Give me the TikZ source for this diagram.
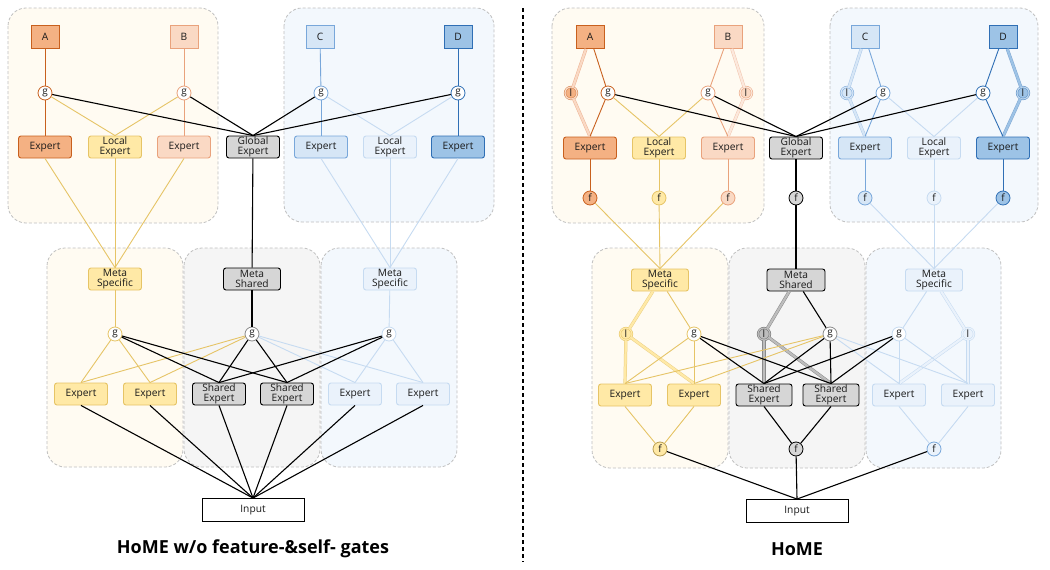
\documentclass[tikz,border=0pt]{standalone}
\usepackage{fontspec}
\setmainfont{Open Sans}
\definecolor{oD}{HTML}{C8601E}
\definecolor{oDf}{HTML}{F4B183}
\definecolor{oL}{HTML}{E9A27C}
\definecolor{oLf}{HTML}{FAD9C4}
\definecolor{yL}{HTML}{E6C466}
\definecolor{yF}{HTML}{FFE9A6}
\definecolor{bC}{HTML}{78A7DA}
\definecolor{bCf}{HTML}{D6E6F6}
\definecolor{bD}{HTML}{2F6FB5}
\definecolor{bDf}{HTML}{9DC3E6}
\definecolor{bL}{HTML}{C6DBF1}
\definecolor{bLf}{HTML}{EAF2FB}
\definecolor{gF}{HTML}{D6D6D6}
\definecolor{gD}{HTML}{8A8A8A}
\definecolor{gDf}{HTML}{BDBDBD}
\definecolor{grpO}{HTML}{FFFBF2}
\definecolor{grpG}{HTML}{F5F5F5}
\definecolor{grpB}{HTML}{F3F8FD}
\definecolor{grpE}{HTML}{BFBFBF}
\definecolor{txt}{HTML}{1A1A1A}
\tikzset{
  ebox/.style={rectangle, rounded corners=2.5pt, minimum width=53pt, minimum height=22pt, inner sep=0.5pt, align=center, text=txt, font=\fontsize{10.2}{10.6}\selectfont, line width=0.9pt},
  tbox/.style={rectangle, minimum width=28pt, minimum height=23pt, inner sep=0pt, text=txt, font=\fontsize{10.2}{10}\selectfont, line width=0.9pt},
  gate/.style={circle, minimum size=14pt, inner sep=0pt, fill=white, line width=0.8pt, text=txt, font=\fontsize{10}{10}\selectfont},
  lgate/.style={circle, minimum size=12pt, inner sep=0pt, line width=0.5pt, double distance=1.2pt, text=txt, font=\fontsize{10}{10}\selectfont},
  grp/.style={dash pattern=on 3pt off 2pt, draw=grpE, line width=0.8pt, rounded corners=18pt},
  ln/.style={line width=0.9pt},
  blk/.style={line width=1.1pt, draw=black},
  dbl/.style={line width=0.5pt, double distance=2.2pt},
  ttl/.style={font=\fontsize{18}{20}\selectfont\bfseries}
}
\begin{document}
\begin{tikzpicture}[x=1pt,y=-1pt]
\useasboundingbox (0,0) rectangle (1050,570);
% ---------- groups ----------
\draw[grp, fill=grpO] (8,8) rectangle (218,223);
\draw[grp, fill=grpB] (284,8) rectangle (494,222);
\draw[grp, fill=grpO] (47,248) rectangle (183,467);
\draw[grp, fill=grpG] (184,248) rectangle (320,467);
\draw[grp, fill=grpB] (321,248) rectangle (457,467);
\draw[grp, fill=grpO] (552,8) rectangle (764,223);
\draw[grp, fill=grpB] (830,8) rectangle (1038,222);
\draw[grp, fill=grpO] (592,248) rectangle (728,468);
\draw[grp, fill=grpG] (729,248) rectangle (865,468);
\draw[grp, fill=grpB] (866,248) rectangle (1001,468);
% divider
\coordinate (dv1) at (523,8);
\coordinate (dv2) at (523,562);
\draw[line width=1.3pt, dash pattern=on 4pt off 3pt] (dv1) -- (dv2);

% ================= LEFT =================
\node[tbox, fill=oDf, draw=oD] (A1) at (45,37) {A};
\node[tbox, fill=oLf, draw=oL] (B1) at (184,37) {B};
\node[tbox, fill=bCf, draw=bC] (C1) at (320,37) {C};
\node[tbox, fill=bDf, draw=bD] (D1) at (458,37) {D};
\node[gate, draw=oD] (gA1) at (45,93) {g};
\node[gate, draw=oL] (gB1) at (184,93) {g};
\node[gate, draw=bC] (gC1) at (321,93) {g};
\node[gate, draw=bD] (gD1) at (458,93) {g};
\node[ebox, fill=oDf, draw=oD] (eA1) at (45,147) {Expert};
\node[ebox, fill=yF, draw=yL] (lo1) at (115,147) {Local\\Expert};
\node[ebox, fill=oLf, draw=oL] (eB1) at (184,147) {Expert};
\node[ebox, fill=gF, draw=black] (ge1) at (253,147) {Global\\Expert};
\node[ebox, fill=bCf, draw=bC] (eC1) at (321,147) {Expert};
\node[ebox, fill=bLf, draw=bL] (lb1) at (390,147) {Local\\Expert};
\node[ebox, fill=bDf, draw=bD] (eD1) at (458,147) {Expert};
\node[ebox, fill=yF, draw=yL] (ms1) at (115,279) {Meta\\Specific};
\node[ebox, fill=gF, draw=black, minimum width=57pt] (msh1) at (252,279) {Meta\\Shared};
\node[ebox, fill=bLf, draw=bL] (mb1) at (390,279) {Meta\\Specific};
\node[gate, draw=yL] (gy1) at (115,334) {g};
\node[gate, draw=gD] (gg1) at (252,334) {g};
\node[gate, draw=bL] (gb1) at (389,334) {g};
\node[ebox, fill=yF, draw=yL] (y11) at (81,394) {Expert};
\node[ebox, fill=yF, draw=yL] (y12) at (150,394) {Expert};
\node[ebox, fill=gF, draw=black] (s11) at (219,394) {Shared\\Expert};
\node[ebox, fill=gF, draw=black] (s12) at (287,394) {Shared\\Expert};
\node[ebox, fill=bLf, draw=bL] (b11) at (355,394) {Expert};
\node[ebox, fill=bLf, draw=bL] (b12) at (423,394) {Expert};
\node[ebox, rounded corners=0pt, fill=white, draw=black, minimum width=102pt, minimum height=23pt] (in1) at (253,510) {Input};
\node[ttl] (t1) at (253,549) {HoME w/o feature-\&self- gates};

\draw[ln, oD] (A1) -- (gA1); \draw[ln, oD] (gA1) -- (eA1);
\draw[ln, oL] (B1) -- (gB1); \draw[ln, oL] (gB1) -- (eB1);
\draw[ln, bC] (C1) -- (gC1); \draw[ln, bC] (gC1) -- (eC1);
\draw[ln, bD] (D1) -- (gD1); \draw[ln, bD] (gD1) -- (eD1);
\draw[ln, yL] (gA1) -- (lo1.north); \draw[ln, yL] (gB1) -- (lo1.north);
\draw[ln, bL] (gC1) -- (lb1.north); \draw[ln, bL] (gD1) -- (lb1.north);
\foreach \g in {gA1,gB1,gC1,gD1} \draw[blk] (\g) -- (ge1.north);
\foreach \e in {eA1,lo1,eB1} \draw[ln, yL] (\e.south) -- (ms1.north);
\foreach \e in {eC1,lb1,eD1} \draw[ln, bL] (\e.south) -- (mb1.north);
\draw[blk] (ge1) -- (msh1);
\draw[ln, yL] (ms1) -- (gy1);
\draw[blk] (msh1) -- (gg1);
\draw[ln, bL] (mb1) -- (gb1);
\foreach \g in {gy1,gg1} {\draw[ln, yL] (\g) -- (y11.north); \draw[ln, yL] (\g) -- (y12.north);}
\foreach \g in {gg1,gb1} {\draw[ln, bL] (\g) -- (b11.north); \draw[ln, bL] (\g) -- (b12.north);}
\foreach \g in {gy1,gg1,gb1} {\draw[blk] (\g) -- (s11.north); \draw[blk] (\g) -- (s12.north);}
\foreach \e in {y11,y12,s11,s12,b11,b12} \draw[blk] (\e.south) -- (in1.north);

% ================= RIGHT =================
\node[tbox, fill=oDf, draw=oD] (A2) at (590,37) {A};
\node[tbox, fill=oLf, draw=oL] (B2) at (728,37) {B};
\node[tbox, fill=bCf, draw=bC] (C2) at (865,37) {C};
\node[tbox, fill=bDf, draw=bD] (D2) at (1003,37) {D};
\node[lgate, fill=oDf, draw=oD!80, double=oLf] (lA2) at (571,93) {l};
\node[gate, draw=oD] (gA2) at (608,93) {g};
\node[gate, draw=oL] (gB2) at (708,93) {g};
\node[lgate, fill=oLf, draw=oL, double=oLf!60] (lB2) at (746,93) {l};
\node[lgate, fill=bCf, draw=bC, double=bCf] (lC2) at (847,93) {l};
\node[gate, draw=bC] (gC2) at (883,93) {g};
\node[gate, draw=bD] (gD2) at (983,93) {g};
\node[lgate, fill=bDf, draw=bD!80, double=bDf!70] (lD2) at (1023,93) {l};
\node[ebox, fill=oDf, draw=oD] (eA2) at (590,148) {Expert};
\node[ebox, fill=yF, draw=yL] (lo2) at (659,148) {Local\\Expert};
\node[ebox, fill=oLf, draw=oL] (eB2) at (728,148) {Expert};
\node[ebox, fill=gF, draw=black] (ge2) at (796,148) {Global\\Expert};
\node[ebox, fill=bCf, draw=bC] (eC2) at (865,148) {Expert};
\node[ebox, fill=bLf, draw=bL] (lb2) at (934,148) {Local\\Expert};
\node[ebox, fill=bDf, draw=bD] (eD2) at (1003,148) {Expert};
\node[gate, fill=oDf, draw=oD] (fA2) at (590,198) {f};
\node[gate, fill=yF, draw=yL] (fl2) at (659,198) {f};
\node[gate, fill=oLf, draw=oL] (fB2) at (728,198) {f};
\node[gate, fill=gF, draw=black] (fg2) at (796,198) {f};
\node[gate, fill=bCf, draw=bC] (fC2) at (865,198) {f};
\node[gate, fill=bLf, draw=bL] (flb2) at (934,198) {f};
\node[gate, fill=bDf, draw=bD] (fD2) at (1003,198) {f};
\node[ebox, fill=yF, draw=yL, minimum width=57pt] (ms2) at (660,280) {Meta\\Specific};
\node[ebox, fill=gF, draw=black, minimum width=58pt] (msh2) at (796,280) {Meta\\Shared};
\node[ebox, fill=bLf, draw=bL, minimum width=57pt] (mb2) at (934,280) {Meta\\Specific};
\node[lgate, fill=yF, draw=yL, double=yF] (ly2) at (626,334) {l};
\node[gate, draw=yL] (gy2) at (694,334) {g};
\node[lgate, fill=gDf, draw=gD!80!black, double=gDf] (lg2) at (764,334) {l};
\node[gate, draw=gD] (gg2) at (830,334) {g};
\node[gate, draw=bL] (gb2) at (899,334) {g};
\node[lgate, fill=bLf, draw=bL, double=bLf] (lbx2) at (968,334) {l};
\node[ebox, fill=yF, draw=yL] (y21) at (625,395) {Expert};
\node[ebox, fill=yF, draw=yL] (y22) at (694,395) {Expert};
\node[ebox, fill=gF, draw=black, minimum width=56pt] (s21) at (764,395) {Shared\\Expert};
\node[ebox, fill=gF, draw=black, minimum width=56pt] (s22) at (831,395) {Shared\\Expert};
\node[ebox, fill=bLf, draw=bL] (b21) at (899,395) {Expert};
\node[ebox, fill=bLf, draw=bL] (b22) at (968,395) {Expert};
\node[gate, fill=yF, draw=yL!80!black] (fy2) at (660,449) {f};
\node[gate, fill=gF, draw=black] (fgr2) at (796,449) {f};
\node[gate, fill=bLf, draw=bC] (fb2) at (934,449) {f};
\node[ebox, rounded corners=0pt, fill=white, draw=black, minimum width=102pt, minimum height=23pt] (in2) at (797,511) {Input};
\node[ttl] (t2) at (797,549) {HoME};

% top connections
\draw[dbl, draw=oL!80, double=oLf] (A2) -- (lA2);
\draw[dbl, draw=oL!80, double=oLf] (lA2) -- (eA2.north);
\draw[ln, oD] (A2) -- (gA2); \draw[ln, oD] (gA2) -- (eA2.north);
\draw[dbl, draw=oL!60, double=oLf!60] (B2) -- (lB2);
\draw[dbl, draw=oL!60, double=oLf!60] (lB2) -- (eB2.north);
\draw[ln, oL] (B2) -- (gB2); \draw[ln, oL] (gB2) -- (eB2.north);
\draw[dbl, draw=bC!60, double=bCf] (C2) -- (lC2);
\draw[dbl, draw=bC!60, double=bCf] (lC2) -- (eC2.north);
\draw[ln, bC] (C2) -- (gC2); \draw[ln, bC] (gC2) -- (eC2.north);
\draw[dbl, draw=bD!60, double=bDf] (D2) -- (lD2);
\draw[dbl, draw=bD!60, double=bDf] (lD2) -- (eD2.north);
\draw[ln, bD] (D2) -- (gD2); \draw[ln, bD] (gD2) -- (eD2.north);
\draw[ln, yL] (gA2) -- (lo2.north); \draw[ln, yL] (gB2) -- (lo2.north);
\draw[ln, bL] (gC2) -- (lb2.north); \draw[ln, bL] (gD2) -- (lb2.north);
\foreach \g in {gA2,gB2,gC2,gD2} \draw[blk] (\g) -- (ge2.north);
\draw[ln, oD] (eA2) -- (fA2);
\draw[ln, yL] (lo2) -- (fl2);
\draw[ln, oL] (eB2) -- (fB2);
\draw[blk] (ge2) -- (fg2);
\draw[ln, bC] (eC2) -- (fC2);
\draw[ln, bL] (lb2) -- (flb2);
\draw[ln, bD] (eD2) -- (fD2);
\foreach \f in {fA2,fl2,fB2} \draw[ln, yL] (\f) -- (ms2.north);
\foreach \f in {fC2,flb2,fD2} \draw[ln, bL] (\f) -- (mb2.north);
\draw[blk] (fg2) -- (msh2);
% bottom connections
\draw[dbl, draw=yL!80, double=yF] (ms2) -- (ly2);
\draw[ln, yL] (ms2) -- (gy2);
\draw[dbl, draw=gD, double=gDf] (msh2) -- (lg2);
\draw[blk] (msh2) -- (gg2);
\draw[ln, bL] (mb2) -- (gb2);
\draw[dbl, draw=bL, double=bLf] (mb2) -- (lbx2);
\foreach \e in {y21,y22} \draw[dbl, draw=yL!80, double=yF] (ly2) -- (\e.north);
\foreach \e in {s21,s22} \draw[dbl, draw=gD, double=gDf] (lg2) -- (\e.north);
\foreach \e in {b21,b22} \draw[dbl, draw=bL, double=bLf] (lbx2) -- (\e.north);
\foreach \g in {gy2,gg2} {\draw[ln, yL] (\g) -- (y21.north); \draw[ln, yL] (\g) -- (y22.north);}
\foreach \g in {gg2,gb2} {\draw[ln, bL] (\g) -- (b21.north); \draw[ln, bL] (\g) -- (b22.north);}
\foreach \g in {gy2,gg2,gb2} {\draw[blk] (\g) -- (s21.north); \draw[blk] (\g) -- (s22.north);}
\foreach \e in {y21,y22} \draw[ln, yL] (\e.south) -- (fy2);
\foreach \e in {s21,s22} \draw[blk] (\e.south) -- (fgr2);
\foreach \e in {b21,b22} \draw[ln, bL] (\e.south) -- (fb2);
\foreach \f in {fy2,fgr2,fb2} \draw[blk] (\f) -- (in2.north);
\end{tikzpicture}
\end{document}
